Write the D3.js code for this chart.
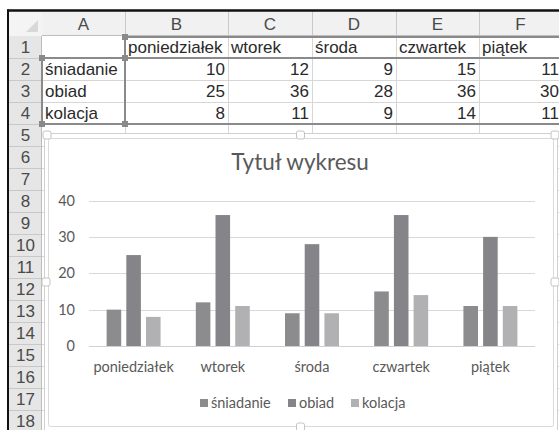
<!DOCTYPE html>
<html>
<head>
<meta charset="utf-8">
<script src="https://cdn.jsdelivr.net/npm/d3@7"></script>
<style>
  body { margin: 0; background: #fff; }
  svg { display: block; }
</style>
</head>
<body>
<div id="sheet"></div>
<script>
// spreadsheet content
var columnLetters = ["A", "B", "C", "D", "E", "F"];
var rowNumbers = d3.range(1, 19);

// chart data (same as cells B1:F4)
var categories = ["poniedziałek", "wtorek", "środa", "czwartek", "piątek"];
var seriesNames = ["śniadanie", "obiad", "kolacja"];
var sniadanie = [10, 12, 9, 15, 11];
var obiad = [25, 36, 28, 36, 30];
var kolacja = [8, 11, 9, 14, 11];
var yTicks = [0, 10, 20, 30, 40];
var chartTitle = "Tytuł wykresu";

var seriesValues = [sniadanie, obiad, kolacja];
var seriesColors = ["#8c8c8f", "#858589", "#b1b1b3"];

var W = 559, H = 430;

var svg = d3.select("#sheet")
  .append("svg")
  .attr("width", W)
  .attr("height", H);

// ---- grid layout ----
var colEdges = [42, 125, 228, 312, 396, 479, 562];
var rowTop = d3.scaleLinear().domain([0, 1]).range([36, 58]); // row n starts at rowTop(n-1)
var headerTop = 11;
var sheetFont = "'Liberation Sans', Arial, sans-serif";

// gridlines
var grid = svg.append("g").attr("stroke", "#d6d6d6").attr("stroke-width", 1);
rowNumbers.forEach(function (r) {
  grid.append("line")
    .attr("x1", 42).attr("x2", W)
    .attr("y1", rowTop(r) + 0.5).attr("y2", rowTop(r) + 0.5);
});
colEdges.slice(1).forEach(function (x) {
  grid.append("line")
    .attr("x1", x + 0.5).attr("x2", x + 0.5)
    .attr("y1", 36).attr("y2", H);
});

// column headers
var colHead = svg.append("g");
colHead.append("rect")
  .attr("x", 9).attr("y", headerTop).attr("width", W - 9).attr("height", 36 - headerTop)
  .attr("fill", "#f1f1f1");
columnLetters.forEach(function (c, i) {
  var x0 = colEdges[i], x1 = colEdges[i + 1];
  colHead.append("line")
    .attr("x1", x1 + 0.5).attr("x2", x1 + 0.5)
    .attr("y1", headerTop).attr("y2", 36)
    .attr("stroke", "#c8c8c8");
  colHead.append("text")
    .attr("x", (x0 + x1) / 2).attr("y", 30)
    .attr("text-anchor", "middle")
    .attr("font-family", sheetFont).attr("font-size", 17)
    .attr("fill", "#4a4a4a")
    .text(c);
});
colHead.append("line")
  .attr("x1", 9).attr("x2", W).attr("y1", 35.5).attr("y2", 35.5)
  .attr("stroke", "#bdbdbd");

// row headers
var rowHead = svg.append("g");
rowHead.append("rect")
  .attr("x", 9).attr("y", 36).attr("width", 33).attr("height", H - 36)
  .attr("fill", "#e6e6e6");
rowNumbers.forEach(function (r) {
  rowHead.append("line")
    .attr("x1", 9).attr("x2", 42)
    .attr("y1", rowTop(r) + 0.5).attr("y2", rowTop(r) + 0.5)
    .attr("stroke", "#c8c8c8");
  rowHead.append("text")
    .attr("x", 25.5).attr("y", rowTop(r - 1) + 17)
    .attr("text-anchor", "middle")
    .attr("font-family", sheetFont).attr("font-size", 17)
    .attr("fill", "#4a4a4a")
    .text(r);
});
rowHead.append("line")
  .attr("x1", 41.5).attr("x2", 41.5).attr("y1", headerTop).attr("y2", H)
  .attr("stroke", "#bdbdbd");

// corner cell with triangle
svg.append("rect")
  .attr("x", 9).attr("y", headerTop).attr("width", 33).attr("height", 36 - headerTop)
  .attr("fill", "#f4f4f4");
svg.append("path")
  .attr("d", "M38,20 L38,32 L26,32 Z")
  .attr("fill", "#d8d8d8");

// black window edge
svg.append("line").attr("x1", 7).attr("x2", W).attr("y1", 10.5).attr("y2", 10.5)
  .attr("stroke", "#111").attr("stroke-width", 2.5);
svg.append("line").attr("x1", 8).attr("x2", 8).attr("y1", 9.5).attr("y2", H)
  .attr("stroke", "#111").attr("stroke-width", 2);

// cell contents
var cells = svg.append("g")
  .attr("font-family", sheetFont).attr("font-size", 17).attr("fill", "#2a2a2a");
categories.forEach(function (c, i) {
  cells.append("text")
    .attr("x", colEdges[i + 1] + 3).attr("y", rowTop(0) + 17)
    .text(c);
});
seriesNames.forEach(function (s, j) {
  cells.append("text")
    .attr("x", colEdges[0] + 3).attr("y", rowTop(j + 1) + 17)
    .text(s);
  seriesValues[j].forEach(function (v, i) {
    cells.append("text")
      .attr("x", colEdges[i + 2] - 3).attr("y", rowTop(j + 1) + 17)
      .attr("text-anchor", "end")
      .text(v);
  });
});

// data range highlight boxes
var hl = svg.append("g").attr("fill", "none").attr("stroke", "#8a8a8a").attr("stroke-width", 2);
hl.append("rect").attr("x", 42).attr("y", rowTop(1)).attr("width", colEdges[1] - 42).attr("height", rowTop(4) - rowTop(1));
hl.append("rect").attr("x", colEdges[1]).attr("y", rowTop(0) + 1).attr("width", W - colEdges[1] + 5).attr("height", rowTop(1) - rowTop(0) - 1);
hl.append("rect").attr("x", colEdges[1]).attr("y", rowTop(1)).attr("width", W - colEdges[1] + 5).attr("height", rowTop(4) - rowTop(1));
[[colEdges[1], rowTop(1)], [colEdges[1], rowTop(4)], [42, rowTop(1)], [42, rowTop(4)], [colEdges[1], rowTop(0) + 1]].forEach(function (p) {
  svg.append("rect")
    .attr("x", p[0] - 3).attr("y", p[1] - 3).attr("width", 6).attr("height", 6)
    .attr("fill", "#8a8a8a");
});

// ---- chart object ----
var outer = { x: 44, y: 133, w: 513, h: 298 };
var frame = { x: 48, y: 138, w: 505, h: 288 };

svg.append("rect")
  .attr("x", outer.x + 0.5).attr("y", outer.y + 0.5)
  .attr("width", outer.w).attr("height", outer.h)
  .attr("fill", "#fff").attr("stroke", "#d0d0d0");
svg.append("rect")
  .attr("x", frame.x + 0.5).attr("y", frame.y + 0.5)
  .attr("width", frame.w).attr("height", frame.h)
  .attr("rx", 2)
  .attr("fill", "#fff").attr("stroke", "#d9d9d9");

// selection handles
[[outer.x + 3, outer.y + 2], [outer.x + outer.w / 2, outer.y + 2], [outer.x + outer.w - 2, outer.y + 2],
 [outer.x + 2, outer.y + outer.h / 2], [outer.x + outer.w - 2, outer.y + outer.h / 2],
 [outer.x + outer.w / 2, frame.y + frame.h + 1]].forEach(function (p) {
  svg.append("rect")
    .attr("x", p[0] - 4).attr("y", p[1] - 4).attr("width", 8).attr("height", 8)
    .attr("rx", 2)
    .attr("fill", "#fff").attr("stroke", "#c4c4c4");
});

var chartFont = "Lato, 'Open Sans', sans-serif";
var textColor = "#595959";
var labelSize = 14.5;

// title
svg.append("text")
  .attr("x", 300).attr("y", 170)
  .attr("text-anchor", "middle")
  .attr("font-family", chartFont).attr("font-size", 22.5)
  .attr("fill", textColor)
  .text(chartTitle);

// scales
var x0 = d3.scaleBand()
  .domain(categories)
  .range([89, 535])
  .paddingInner(0.395)
  .paddingOuter(0.1975);

var x1 = d3.scaleBand()
  .domain(seriesNames)
  .range([0, x0.bandwidth()])
  .paddingInner(0.26);

var y = d3.scaleLinear()
  .domain([0, 40])
  .range([346, 200.5]);

// gridlines
var plot = svg.append("g");
plot.selectAll(".gridline")
  .data(yTicks)
  .enter()
  .append("line")
  .attr("class", "gridline")
  .attr("x1", 89).attr("x2", 535)
  .attr("y1", function (d) { return Math.round(y(d)) + 0.5; })
  .attr("y2", function (d) { return Math.round(y(d)) + 0.5; })
  .attr("stroke", "#d9d9d9");

// y axis labels
var yAxis = plot.append("g")
  .attr("transform", "translate(89,0)")
  .call(d3.axisLeft(y).tickValues(yTicks).tickSize(0).tickPadding(14));
yAxis.select(".domain").remove();
yAxis.selectAll("text")
  .attr("font-family", chartFont).attr("font-size", labelSize)
  .attr("fill", textColor);

// bars
seriesNames.forEach(function (s, j) {
  plot.selectAll(".bar-" + j)
    .data(seriesValues[j])
    .enter()
    .append("rect")
    .attr("class", "bar-" + j)
    .attr("x", function (d, i) { return x0(categories[i]) + x1(s); })
    .attr("y", function (d) { return y(d); })
    .attr("width", x1.bandwidth())
    .attr("height", function (d) { return y(0) - y(d); })
    .attr("fill", seriesColors[j]);
});

// x axis
var xAxis = plot.append("g")
  .attr("transform", "translate(0," + (Math.round(y(0)) + 0.5) + ")")
  .call(d3.axisBottom(x0).tickSize(0).tickPadding(15));
xAxis.select(".domain")
  .attr("stroke", "#d0d0d0")
  .attr("d", "M89,0H535");
xAxis.selectAll("text")
  .attr("font-family", chartFont).attr("font-size", labelSize)
  .attr("fill", textColor);

// legend
var legendX = [200, 288, 351];
var legend = svg.append("g");
seriesNames.forEach(function (s, j) {
  legend.append("rect")
    .attr("x", legendX[j]).attr("y", 399)
    .attr("width", 8).attr("height", 8)
    .attr("fill", seriesColors[j]);
  legend.append("text")
    .attr("x", legendX[j] + 11).attr("y", 408)
    .attr("font-family", chartFont).attr("font-size", labelSize)
    .attr("fill", textColor)
    .text(s);
});
</script>
</body>
</html>
